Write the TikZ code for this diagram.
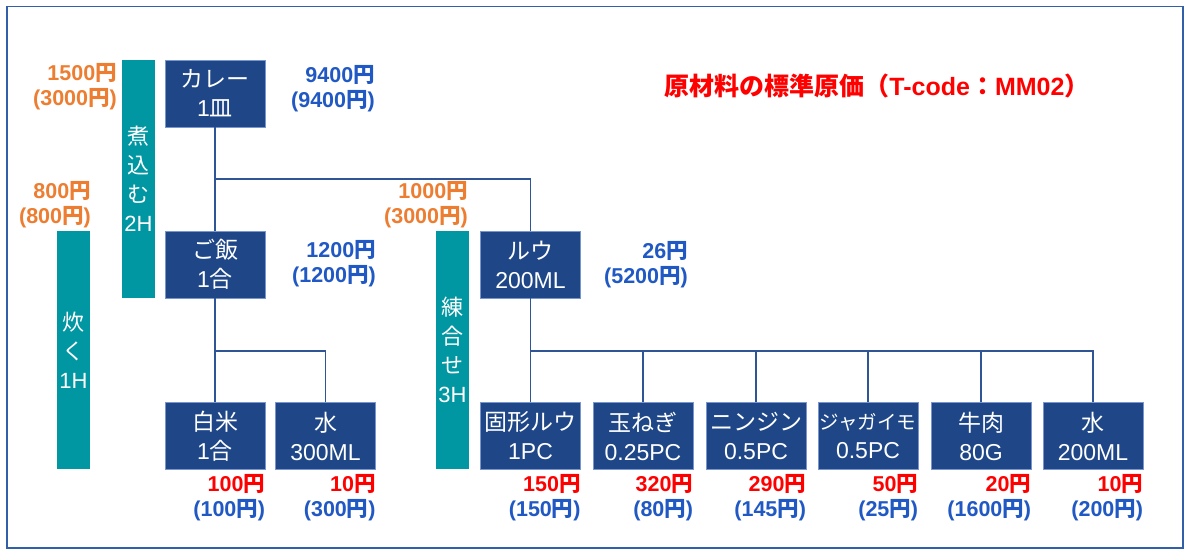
\documentclass[tikz,border=0pt]{standalone}
\usepackage{fontspec}
\setmainfont{Liberation Sans}
\newfontfamily\jp{Noto Sans CJK JP}
\newcommand\J[1]{{\jp #1}}
\usetikzlibrary{calc}
\definecolor{boxblue}{RGB}{31,71,136}
\definecolor{boxedge}{RGB}{120,150,205}
\definecolor{barteal}{RGB}{0,151,163}
\definecolor{wireblue}{RGB}{47,85,151}
\definecolor{frameblue}{RGB}{50,95,170}
\definecolor{labblue}{RGB}{32,88,196}
\definecolor{laborange}{RGB}{237,125,49}
\definecolor{costred}{RGB}{255,0,0}
\begin{document}
\begin{tikzpicture}[x=1pt,y=-1pt,
  box/.style={fill=boxblue, draw=boxedge, line width=0.6pt, text=white,
    minimum width=100pt, minimum height=67pt, inner sep=0pt, align=center,
    font=\fontsize{23}{29}\selectfont},
  bar/.style={fill=barteal, text=white, minimum width=33pt, minimum height=238pt,
    inner sep=0pt, align=center, font=\fontsize{22}{29}\selectfont},
  lab/.style={inner sep=0pt, align=right, anchor=east, font=\fontsize{21.5}{25}\selectfont\bfseries},
  bluelab/.style={lab, text=labblue},
  orangelab/.style={lab, text=laborange},
  wire/.style={draw=wireblue, line width=1.3pt},
  frame/.style={draw=frameblue, line width=1.5pt}]
\useasboundingbox (0,0) rectangle (1191,554);
\fill[white] (0,0) rectangle (1191,554);
\draw[frame] (7,6.5) rectangle (1183,548);

% title
\node[inner sep=0pt, text=costred, font=\fontsize{25}{30}\selectfont\bfseries] (title) at (877,86)
  {\J{原材料の標準原価（}T-code\J{：}MM02\J{）}};

% process bars
\node[bar] (nikomu) at (138.5,179) {\J{煮}\\\J{込}\\\J{む}\\2H};
\node[bar] (taku) at (73.5,350) {\J{炊}\\\J{く}\\1H};
\node[bar] (neru) at (452.5,350) {\J{練}\\\J{合}\\\J{せ}\\3H};

% boxes
\node[box] (curry) at (215,93.5) {\J{カレー}\\1\J{皿}};
\node[box] (rice) at (215,264.5) {\J{ご飯}\\1\J{合}};
\node[box] (hakumai) at (215,436) {\J{白米}\\1\J{合}};
\node[box] (water1) at (325.5,436) {\J{水}\\300ML};
\node[box] (roux) at (530.5,264.5) {\J{ルウ}\\200ML};
\node[box] (b1) at (530.5,436) {\J{固形ルウ}\\1PC};
\node[box] (b2) at (643,436) {\J{玉ねぎ}\\0.25PC};
\node[box] (b3) at (756,436) {\J{ニンジン}\\0.5PC};
\node[box] (b4) at (868,436) {{\fontsize{19.5}{29}\selectfont\J{ジャガイモ}}\\0.5PC};
\node[box] (b5) at (981,436) {\J{牛肉}\\80G};
\node[box] (b6) at (1093,436) {\J{水}\\200ML};

% connectors
\coordinate (j1) at (215,179);
\coordinate (j2) at (215,351);
\coordinate (j3) at (530.5,351);
\draw[wire] (curry.south) -- (rice.north);
\draw[wire] (j1) -| (roux.north);
\draw[wire] (rice.south) -- (hakumai.north);
\draw[wire] (j2) -| (water1.north);
\draw[wire] (roux.south) -- (b1.north);
\draw[wire] (j3) -| (b6.north);
\foreach \b in {b2,b3,b4,b5} \draw[wire] (\b.north |- j3) -- (\b.north);

% labels
\node[orangelab] (lnikomu) at (117,86.5) {1500\J{円}\\(3000\J{円})};
\node[orangelab] (ltaku) at (91,205) {800\J{円}\\(800\J{円})};
\node[orangelab] (lneru) at (468,205) {1000\J{円}\\(3000\J{円})};
\node[bluelab] (lcurry) at (375,88.5) {9400\J{円}\\(9400\J{円})};
\node[bluelab] (lrice) at (376,263.5) {1200\J{円}\\(1200\J{円})};
\node[bluelab] (lroux) at (688,265) {26\J{円}\\(5200\J{円})};

\foreach \n/\a/\b in {hakumai/100/100, water1/10/300, b1/150/150, b2/320/80,
  b3/290/145, b4/50/25, b5/20/1600, b6/10/200}
  \node[lab] (l\n) at ($(\n.south east)+(0,28)$)
    {{\color{costred}\a\J{円}}\\{\color{labblue}(\b\J{円})}};
\end{tikzpicture}
\end{document}
